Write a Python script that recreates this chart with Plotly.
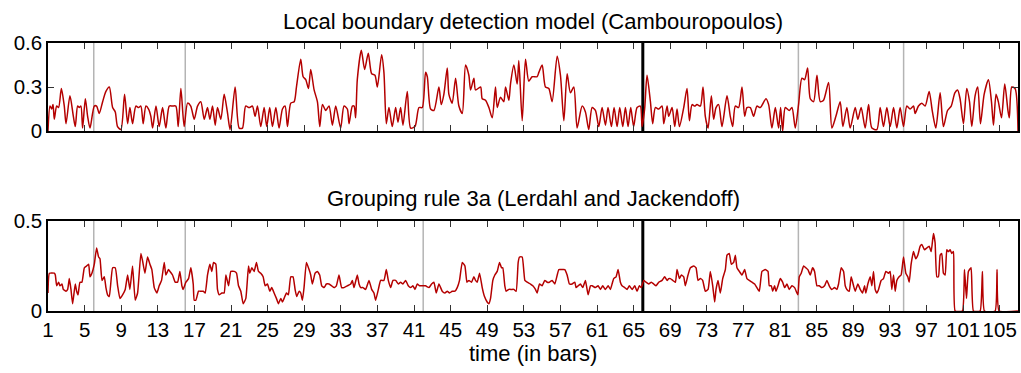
import plotly.graph_objects as go

# ---------------- data (time in bars, value) ----------------
top_x = [1.0, 1.22, 1.4, 1.55, 1.69, 1.95, 2.16, 2.46, 2.78, 2.97, 3.4, 3.77, 3.98, 4.24, 4.42, 4.6, 4.78, 5.08, 5.33, 5.59,
         6.06, 6.31, 6.6, 6.97, 7.33, 7.7, 8.06, 8.35, 8.6, 8.97, 9.37, 9.7, 9.95, 10.24, 10.6, 10.9, 11.15, 11.4, 11.7, 11.99,
         12.24, 12.43, 12.8, 13.15, 13.52, 13.88, 14.25, 14.6, 14.97, 15.23, 15.52, 15.88, 16.25, 16.6, 16.98, 17.34, 17.7, 18.07, 18.43, 18.69,
         18.98, 19.27, 19.52, 19.89, 20.25, 20.6, 20.9, 21.45, 21.89, 22.25, 22.6, 22.98, 23.34, 23.63, 23.89, 24.25, 24.62, 24.9, 25.23, 25.53,
         25.9, 26.25, 26.62, 26.91, 27.17, 27.53, 27.9, 28.15, 28.62, 28.88, 29.17, 29.46, 29.71, 30.08, 30.44, 30.7, 30.99, 31.35, 31.71, 32.08,
         32.44, 32.98, 33.35, 33.71, 33.9, 34.26, 34.45, 34.62, 34.8, 35.24, 35.6, 36.0, 36.37, 36.73, 36.99, 37.46, 37.71, 37.97, 38.26, 38.62,
         38.99, 39.24, 39.53, 39.79, 40.26, 40.63, 41.1, 41.54, 41.9, 42.26, 42.45, 42.81, 43.17, 43.72, 43.97, 44.26, 44.63, 44.81, 45.17, 45.54,
         45.9, 46.27, 46.63, 46.99, 47.18, 47.54, 47.72, 48.27, 48.45, 48.81, 49.18, 49.54, 49.9, 50.09, 50.45, 50.81, 51.0, 51.36, 51.54, 51.91,
         52.27, 52.45, 52.82, 53.18, 53.54, 53.91, 54.45, 54.64, 55.0, 55.36, 55.73, 56.09, 56.64, 57.0, 57.37, 57.73, 58.09, 58.46, 58.82, 59.37,
         59.73, 60.09, 60.46, 60.82, 61.19, 61.55, 61.92, 62.2, 62.57, 62.86, 63.19, 63.48, 63.81, 64.1, 64.39, 64.68, 65.0, 65.37, 65.73, 65.92,
         66.2, 66.46, 66.83, 67.08, 67.37, 67.74, 68.1, 68.29, 68.65, 68.83, 69.2, 69.49, 69.74, 70.0, 70.47, 70.83, 71.09, 71.38, 71.67, 71.92,
         72.29, 72.58, 72.83, 73.13, 73.49, 73.74, 74.0, 74.29, 74.65, 75.2, 75.56, 75.82, 76.11, 76.47, 76.84, 77.13, 77.38, 77.75, 78.11, 78.47,
         78.84, 79.46, 79.75, 80.11, 80.48, 80.84, 81.06, 81.28, 81.57, 82.0, 82.3, 82.66, 83.02, 83.39, 83.68, 84.01, 84.3, 84.66, 85.03, 85.39,
         85.75, 86.3, 86.66, 87.1, 87.57, 87.86, 88.3, 88.66, 89.21, 89.5, 89.86, 90.3, 90.67, 91.03, 91.58, 91.94, 92.3, 92.67, 93.03, 93.4,
         93.76, 94.12, 94.49, 94.85, 95.21, 95.58, 95.76, 96.12, 96.49, 96.85, 97.29, 97.65, 98.02, 98.49, 98.85, 99.3, 99.7, 100.1, 100.4, 100.67,
         101.04, 101.4, 101.7, 101.95, 102.31, 102.6, 102.9, 103.3, 103.77, 104.1, 104.32, 104.6, 104.85, 105.2, 105.55, 105.9, 106.05, 106.32, 106.68, 107.0]
top_y = [0.0, 0.17, 0.15, 0.18, 0.08, 0.17, 0.16, 0.29, 0.17, 0.05, 0.24, 0.1, 0.03, 0.17, 0.16, 0.17, 0.02, 0.22, 0.1, 0.02,
         0.17, 0.17, 0.12, 0.2, 0.27, 0.3, 0.16, 0.13, 0.03, 0.01, 0.25, 0.05, 0.16, 0.05, 0.17, 0.16, 0.17, 0.05, 0.17, 0.15,
         0.1, 0.02, 0.17, 0.03, 0.16, 0.02, 0.17, 0.17, 0.17, 0.03, 0.29, 0.03, 0.19, 0.17, 0.08, 0.17, 0.2, 0.08, 0.16, 0.08,
         0.17, 0.04, 0.16, 0.08, 0.25, 0.13, 0.01, 0.3, 0.02, 0.02, 0.17, 0.16, 0.17, 0.1, 0.17, 0.03, 0.16, 0.03, 0.16, 0.03,
         0.16, 0.02, 0.15, 0.17, 0.03, 0.19, 0.2, 0.3, 0.49, 0.37, 0.35, 0.29, 0.42, 0.28, 0.2, 0.03, 0.18, 0.14, 0.17, 0.04,
         0.17, 0.02, 0.17, 0.15, 0.05, 0.17, 0.17, 0.09, 0.35, 0.55, 0.42, 0.53, 0.39, 0.38, 0.3, 0.52, 0.4, 0.05, 0.16, 0.03,
         0.16, 0.06, 0.16, 0.04, 0.27, 0.02, 0.03, 0.16, 0.16, 0.4, 0.37, 0.15, 0.14, 0.3, 0.18, 0.25, 0.43, 0.25, 0.19, 0.36,
         0.17, 0.12, 0.45, 0.38, 0.28, 0.36, 0.28, 0.3, 0.22, 0.21, 0.16, 0.09, 0.3, 0.16, 0.23, 0.2, 0.3, 0.21, 0.32, 0.45,
         0.32, 0.48, 0.07, 0.49, 0.34, 0.37, 0.37, 0.4, 0.45, 0.3, 0.29, 0.2, 0.51, 0.38, 0.07, 0.39, 0.26, 0.3, 0.02, 0.17,
         0.13, 0.01, 0.16, 0.14, 0.03, 0.16, 0.04, 0.16, 0.03, 0.16, 0.03, 0.16, 0.03, 0.16, 0.03, 0.16, 0.03, 0.16, 0.17, 0.03,
         0.15, 0.38, 0.2, 0.05, 0.16, 0.15, 0.17, 0.05, 0.17, 0.1, 0.16, 0.03, 0.15, 0.03, 0.16, 0.29, 0.07, 0.18, 0.17, 0.18,
         0.17, 0.3, 0.1, 0.02, 0.24, 0.08, 0.16, 0.18, 0.03, 0.24, 0.1, 0.03, 0.17, 0.16, 0.3, 0.1, 0.16, 0.16, 0.1, 0.17,
         0.16, 0.22, 0.18, 0.02, 0.16, 0.02, 0.16, 0.0, 0.16, 0.14, 0.16, 0.02, 0.18, 0.36, 0.35, 0.43, 0.22, 0.2, 0.38, 0.2,
         0.21, 0.33, 0.02, 0.1, 0.2, 0.03, 0.16, 0.02, 0.16, 0.08, 0.16, 0.02, 0.18, 0.02, 0.01, 0.16, 0.03, 0.16, 0.03, 0.16,
         0.02, 0.16, 0.03, 0.17, 0.15, 0.17, 0.12, 0.17, 0.19, 0.17, 0.27, 0.13, 0.02, 0.26, 0.03, 0.14, 0.17, 0.26, 0.28, 0.22,
         0.05, 0.29, 0.2, 0.03, 0.24, 0.3, 0.05, 0.25, 0.35, 0.2, 0.04, 0.25, 0.2, 0.09, 0.32, 0.14, 0.09, 0.3, 0.29, 0.0]

bottom_x = [1.0, 1.15, 1.69, 1.8, 1.95, 2.16, 2.31, 2.53, 2.67, 2.97, 3.15, 3.33, 3.51, 3.69, 3.98, 4.13, 4.28, 4.49, 4.71, 4.97,
            5.22, 5.44, 5.59, 5.8, 6.06, 6.31, 6.53, 6.68, 6.9, 7.15, 7.33, 7.51, 7.7, 8.06, 8.35, 8.61, 8.86, 9.15, 9.44, 9.7,
            9.95, 10.24, 10.53, 10.79, 11.15, 11.33, 11.59, 11.88, 12.14, 12.35, 12.61, 12.9, 13.15, 13.41, 13.7, 13.88, 14.17, 14.32, 14.61, 14.9,
            15.16, 15.41, 15.63, 15.77, 16.07, 16.36, 16.61, 16.87, 16.98, 17.16, 17.45, 17.7, 17.96, 18.18, 18.43, 18.69, 18.9, 19.09, 19.34, 19.52,
            19.71, 20.0, 20.25, 20.44, 20.73, 20.98, 21.35, 21.6, 21.82, 22.07, 22.33, 22.62, 22.91, 23.05, 23.27, 23.53, 23.78, 24.0, 24.25, 24.51,
            24.73, 24.98, 25.24, 25.45, 25.71, 25.96, 26.18, 26.44, 26.62, 26.8, 27.06, 27.27, 27.53, 27.78, 28.0, 28.18, 28.44, 28.62, 28.8, 28.98,
            29.24, 29.53, 29.71, 29.89, 30.19, 30.44, 30.69, 30.91, 31.17, 31.42, 31.71, 32.0, 32.26, 32.51, 32.8, 33.09, 33.35, 33.71, 34.08, 34.26,
            34.44, 34.8, 34.99, 35.17, 35.42, 35.71, 36.08, 36.37, 36.62, 36.8, 37.1, 37.35, 37.71, 37.97, 38.19, 38.44, 38.7, 38.99, 39.28, 39.53,
            39.79, 40.08, 40.37, 40.63, 40.88, 41.1, 41.35, 41.61, 41.9, 42.26, 42.63, 42.92, 43.17, 43.43, 43.72, 44.08, 44.37, 44.63, 44.88, 45.17,
            45.47, 45.72, 45.97, 46.27, 46.56, 46.78, 46.99, 47.28, 47.54, 47.72, 47.9, 48.16, 48.45, 48.7, 48.99, 49.18, 49.36, 49.61, 49.83, 50.09,
            50.34, 50.56, 50.7, 50.92, 51.07, 51.36, 51.65, 51.91, 52.16, 52.38, 52.53, 52.82, 53.0, 53.11, 53.36, 53.73, 53.98, 54.27, 54.45, 54.71,
            55.0, 55.29, 55.55, 55.8, 56.09, 56.38, 56.82, 57.11, 57.47, 57.73, 57.98, 58.27, 58.57, 58.71, 58.93, 59.18, 59.44, 59.73, 60.02, 60.28,
            60.46, 60.82, 61.11, 61.37, 61.62, 61.91, 62.21, 62.46, 62.64, 62.82, 63.08, 63.3, 63.55, 63.73, 64.02, 64.28, 64.53, 64.83, 65.12, 65.37,
            65.62, 65.84, 66.1, 66.35, 66.64, 66.93, 67.19, 67.44, 67.74, 68.1, 68.39, 68.65, 68.83, 69.01, 69.27, 69.56, 69.74, 70.0, 70.21, 70.47,
            70.65, 70.94, 71.2, 71.56, 71.82, 72.03, 72.29, 72.54, 72.83, 73.13, 73.38, 73.64, 73.85, 74.0, 74.22, 74.47, 74.73, 75.02, 75.2, 75.45,
            75.67, 75.93, 76.11, 76.29, 76.55, 76.84, 77.13, 77.38, 77.64, 77.93, 78.22, 78.47, 78.73, 79.02, 79.38, 79.68, 79.82, 80.04, 80.19, 80.4,
            80.55, 80.77, 81.02, 81.28, 81.5, 81.75, 82.0, 82.3, 82.59, 82.84, 82.95, 83.1, 83.31, 83.57, 83.82, 84.04, 84.3, 84.55, 84.77, 85.03,
            85.28, 85.57, 85.86, 86.12, 86.37, 86.66, 86.95, 87.21, 87.39, 87.68, 87.94, 88.12, 88.3, 88.56, 88.77, 89.03, 89.21, 89.5, 89.76, 90.01,
            90.23, 90.37, 90.59, 90.85, 91.03, 91.21, 91.39, 91.58, 91.76, 92.05, 92.3, 92.56, 92.85, 93.03, 93.21, 93.4, 93.58, 93.76, 94.01, 94.23,
            94.49, 94.74, 94.96, 95.11, 95.32, 95.58, 95.83, 96.05, 96.31, 96.49, 96.78, 97.03, 97.29, 97.51, 97.76, 97.94, 98.13, 98.31, 98.49, 98.67,
            98.85, 99.04, 99.22, 99.4, 99.58, 99.76, 99.95, 100.13, 100.93, 101.15, 101.37, 101.58, 101.87, 102.13, 102.86, 103.11, 103.33, 104.5, 104.71, 104.93,
            107.0]
bottom_y = [0.1, 0.21, 0.21, 0.2, 0.14, 0.16, 0.14, 0.15, 0.12, 0.11, 0.12, 0.18, 0.12, 0.04, 0.15, 0.11, 0.09, 0.16, 0.16, 0.24,
            0.25, 0.26, 0.19, 0.21, 0.26, 0.35, 0.3, 0.29, 0.17, 0.19, 0.13, 0.09, 0.08, 0.24, 0.24, 0.14, 0.07, 0.09, 0.12, 0.2,
            0.12, 0.25, 0.06, 0.1, 0.32, 0.28, 0.21, 0.3, 0.26, 0.23, 0.13, 0.1, 0.14, 0.17, 0.27, 0.2, 0.23, 0.22, 0.2, 0.16,
            0.16, 0.22, 0.14, 0.12, 0.16, 0.18, 0.24, 0.15, 0.06, 0.06, 0.11, 0.11, 0.11, 0.1, 0.2, 0.26, 0.22, 0.27, 0.26, 0.12,
            0.09, 0.1, 0.1, 0.2, 0.14, 0.22, 0.22, 0.21, 0.14, 0.11, 0.04, 0.07, 0.25, 0.21, 0.24, 0.22, 0.27, 0.22, 0.21, 0.19,
            0.14, 0.15, 0.11, 0.13, 0.1, 0.07, 0.04, 0.07, 0.05, 0.07, 0.1, 0.09, 0.19, 0.19, 0.12, 0.08, 0.11, 0.1, 0.06, 0.13,
            0.27, 0.23, 0.2, 0.15, 0.21, 0.22, 0.2, 0.14, 0.13, 0.15, 0.15, 0.14, 0.13, 0.14, 0.2, 0.13, 0.13, 0.14, 0.15, 0.17,
            0.13, 0.2, 0.15, 0.13, 0.13, 0.12, 0.17, 0.12, 0.1, 0.06, 0.12, 0.17, 0.17, 0.23, 0.17, 0.13, 0.17, 0.17, 0.15, 0.16,
            0.15, 0.17, 0.14, 0.13, 0.14, 0.12, 0.15, 0.14, 0.14, 0.14, 0.13, 0.15, 0.16, 0.1, 0.15, 0.11, 0.1, 0.11, 0.1, 0.11,
            0.11, 0.13, 0.17, 0.27, 0.25, 0.16, 0.17, 0.16, 0.19, 0.17, 0.16, 0.21, 0.13, 0.08, 0.05, 0.04, 0.07, 0.17, 0.2, 0.22,
            0.27, 0.24, 0.24, 0.14, 0.11, 0.12, 0.12, 0.12, 0.11, 0.27, 0.3, 0.3, 0.22, 0.17, 0.16, 0.15, 0.14, 0.12, 0.1, 0.15,
            0.14, 0.17, 0.16, 0.16, 0.17, 0.15, 0.23, 0.23, 0.23, 0.2, 0.15, 0.15, 0.16, 0.13, 0.14, 0.15, 0.13, 0.17, 0.09, 0.14,
            0.14, 0.13, 0.14, 0.12, 0.14, 0.12, 0.14, 0.12, 0.15, 0.18, 0.19, 0.23, 0.16, 0.14, 0.13, 0.12, 0.14, 0.12, 0.14, 0.11,
            0.14, 0.13, 0.17, 0.16, 0.15, 0.16, 0.15, 0.14, 0.16, 0.17, 0.19, 0.17, 0.18, 0.18, 0.17, 0.16, 0.23, 0.18, 0.2, 0.19,
            0.14, 0.2, 0.24, 0.25, 0.24, 0.17, 0.18, 0.17, 0.11, 0.12, 0.22, 0.14, 0.05, 0.12, 0.17, 0.1, 0.18, 0.23, 0.31, 0.32,
            0.26, 0.27, 0.31, 0.24, 0.22, 0.2, 0.23, 0.18, 0.17, 0.16, 0.15, 0.13, 0.11, 0.22, 0.23, 0.22, 0.14, 0.14, 0.11, 0.14,
            0.11, 0.14, 0.18, 0.16, 0.13, 0.15, 0.12, 0.14, 0.13, 0.1, 0.09, 0.19, 0.21, 0.25, 0.24, 0.23, 0.2, 0.24, 0.22, 0.14,
            0.14, 0.13, 0.14, 0.17, 0.14, 0.12, 0.13, 0.12, 0.15, 0.24, 0.22, 0.14, 0.12, 0.11, 0.19, 0.14, 0.11, 0.15, 0.12, 0.1,
            0.14, 0.1, 0.15, 0.19, 0.14, 0.22, 0.12, 0.1, 0.12, 0.17, 0.18, 0.22, 0.21, 0.22, 0.12, 0.2, 0.11, 0.17, 0.19, 0.2,
            0.3, 0.21, 0.19, 0.16, 0.26, 0.33, 0.29, 0.31, 0.36, 0.37, 0.34, 0.35, 0.36, 0.33, 0.43, 0.38, 0.19, 0.19, 0.31, 0.32,
            0.21, 0.2, 0.34, 0.33, 0.34, 0.32, 0.33, 0.0, 0.0, 0.23, 0.07, 0.22, 0.24, 0.0, 0.0, 0.22, 0.0, 0.0, 0.23, 0.0,
            0.0]

section_boundaries = [6, 16, 42, 83, 94.5]
main_boundary = [66]
x_ticks = list(range(1, 106, 4))
top_title = "Local boundary detection model (Cambouropoulos)"
bottom_title = "Grouping rule 3a (Lerdahl and Jackendoff)"
x_label = "time (in bars)"

# ---------------- figure ----------------
LINE = "#b40000"
FONT = "Liberation Sans, Arial, Helvetica, sans-serif"
FS_TICK = 20.5
FS_TITLE = 22

fig = go.Figure()
fig.add_trace(go.Scatter(x=top_x, y=top_y, mode="lines",
                         line=dict(color=LINE, width=1.5, shape="spline", smoothing=0.7),
                         xaxis="x", yaxis="y", showlegend=False))
fig.add_trace(go.Scatter(x=bottom_x, y=bottom_y, mode="lines",
                         line=dict(color=LINE, width=1.5, shape="spline", smoothing=0.4),
                         xaxis="x2", yaxis="y2", showlegend=False))

shapes = []
for xr, yr in (("x", "y"), ("x2", "y2")):
    for b in section_boundaries:
        shapes.append(dict(type="line", xref=xr, yref=yr + " domain", x0=b, x1=b, y0=0, y1=1,
                           line=dict(color="#b4b4b4", width=1.5), layer="below"))
    for b in main_boundary:
        shapes.append(dict(type="line", xref=xr, yref=yr + " domain", x0=b, x1=b, y0=0, y1=1,
                           line=dict(color="black", width=3), layer="below"))

axis_common = dict(showline=True, linecolor="black", linewidth=1.5, mirror="ticks",
                   ticks="inside", ticklen=6, tickwidth=1.2, tickcolor="#333333",
                   showgrid=False, zeroline=False, tickangle=0,
                   tickfont=dict(family=FONT, size=FS_TICK, color="black"))

fig.update_layout(
    width=1021, height=373,
    margin=dict(l=48, r=1, t=43, b=62),
    paper_bgcolor="white", plot_bgcolor="white",
    font=dict(family=FONT, size=FS_TICK, color="black"),
    xaxis=dict(domain=[0, 1], anchor="y", range=[1, 107], tickvals=x_ticks,
               showticklabels=False, **axis_common),
    yaxis=dict(domain=[0.6716, 1], anchor="x", range=[0, 0.6], tickvals=[0, 0.3, 0.6],
               ticktext=["0", "0.3", "0.6"], **axis_common),
    xaxis2=dict(domain=[0, 1], anchor="y2", range=[1, 107], tickvals=x_ticks, **axis_common),
    yaxis2=dict(domain=[0, 0.3358], anchor="x2", range=[0, 0.5], tickvals=[0, 0.5],
                ticktext=["0", "0.5"], **axis_common),
    shapes=shapes,
    annotations=[
        dict(text=top_title, xref="paper", yref="paper", x=0.5, y=1.08, showarrow=False,
             xanchor="center", yanchor="middle", font=dict(family=FONT, size=FS_TITLE)),
        dict(text=bottom_title, xref="paper", yref="paper", x=0.5, y=0.418, showarrow=False,
             xanchor="center", yanchor="middle", font=dict(family=FONT, size=FS_TITLE)),
        dict(text=x_label, xref="paper", yref="paper", x=0.5, y=-0.16, showarrow=False,
             xanchor="center", yanchor="middle", font=dict(family=FONT, size=FS_TITLE)),
    ],
)

fig.write_html("out.html")
